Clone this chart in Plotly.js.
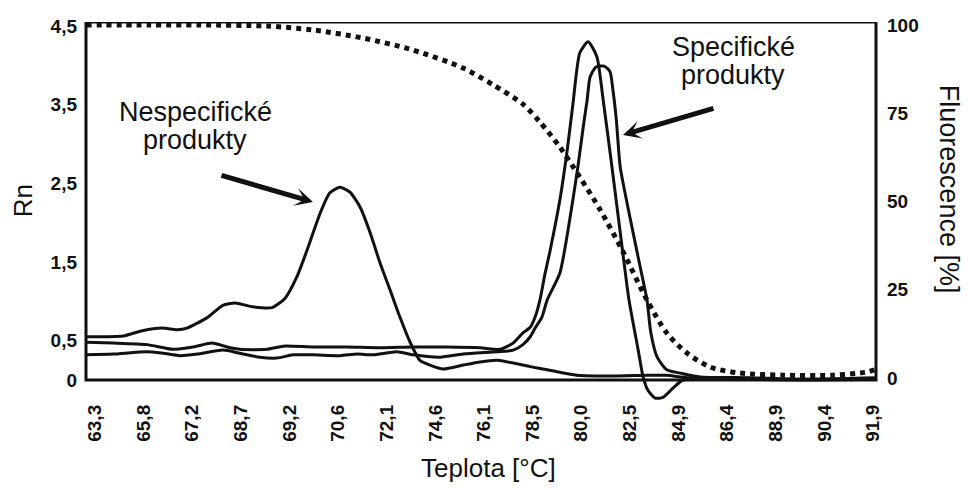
<!DOCTYPE html>
<html>
<head>
<meta charset="utf-8">
<script src="https://cdn.plot.ly/plotly-3.0.1.min.js"></script>
<style>
  html, body { margin: 0; padding: 0; background: #fff; }
  #chart { width: 968px; height: 490px; }
</style>
</head>
<body>
<div id="chart"></div>
<script>
// Temperature tick labels (evenly spaced along the axis)
const tempLabels = ['63,3', '65,8', '67,2', '68,7', '69,2', '70,6', '72,1', '74,6', '76,1',
                    '78,5', '80,0', '82,5', '84,9', '86,4', '88,9', '90,4', '91,9'];
const tempPos = tempLabels.map((_, i) => i);

// Rn axis ticks
const rnTickVals = [0, 0.5, 1.5, 2.5, 3.5, 4.5];
const rnTickText = ['0', '0,5', '1,5', '2,5', '3,5', '4,5'];

// Fluorescence axis ticks
const fluorTickVals = [0, 25, 50, 75, 100];

// Melt curve with non-specific products (peak near 70,6)
const nonspecX  = [-0.18, 0.58, 0.93, 1.38, 1.69, 1.89, 2.30, 2.63, 2.88, 3.25, 3.64, 3.91, 4.15, 4.36,
                   4.63, 4.83, 5.04, 5.24, 5.45, 5.66, 5.86, 6.07, 6.27, 6.48, 6.68, 6.89, 7.16, 7.57,
                   7.92, 8.27, 8.95, 9.30, 9.91, 10.65, 11.35, 11.76, 12.17, 13.26, 14.50, 16.06];
const nonspecRn = [0.55, 0.56, 0.62, 0.66, 0.64, 0.66, 0.79, 0.95, 0.98, 0.93, 0.92, 1.04, 1.31, 1.65,
                   2.12, 2.38, 2.45, 2.39, 2.20, 1.87, 1.49, 1.14, 0.80, 0.48, 0.25, 0.19, 0.14, 0.19,
                   0.23, 0.25, 0.17, 0.13, 0.06, 0.05, 0.06, 0.06, 0.03, 0.01, 0.01, 0.01];

// Specific product, first replicate (taller peak)
const specAX  = [-0.18, 0.37, 1.07, 1.60, 2.02, 2.41, 2.72, 2.98, 3.54, 3.87, 4.48, 5.18, 5.86, 6.54,
                 7.24, 7.92, 8.33, 8.60, 8.80, 8.95, 9.05, 9.15, 9.25, 9.36, 9.56, 9.71, 9.83, 9.97,
                 10.14, 10.32, 10.45, 10.63, 10.82, 10.98, 11.17, 11.27, 11.37, 11.52, 11.68, 11.89,
                 12.09, 12.44, 13.47, 14.50, 16.06];
const specARn = [0.48, 0.47, 0.45, 0.39, 0.42, 0.47, 0.42, 0.39, 0.39, 0.43, 0.42, 0.42, 0.41, 0.42,
                 0.42, 0.41, 0.39, 0.47, 0.60, 0.67, 0.80, 1.02, 1.34, 1.65, 2.29, 2.92, 3.52, 4.16,
                 4.30, 4.11, 3.56, 2.71, 1.78, 1.02, 0.38, 0.04, -0.13, -0.23, -0.22, -0.10,
                 0.00, 0.01, 0.01, 0.00, 0.01];

// Specific product, second replicate
const specBX  = [-0.18, 0.37, 1.07, 1.40, 1.75, 2.10, 2.63, 2.98, 3.39, 3.74, 4.07, 4.48, 5.04, 5.39,
                 5.72, 6.21, 6.54, 7.10, 7.57, 8.27, 8.60, 8.80, 8.95, 9.05, 9.19, 9.30, 9.56, 9.77,
                 9.93, 10.04, 10.12, 10.18, 10.30, 10.47, 10.59, 10.65, 10.72, 10.80, 11.00, 11.21,
                 11.35, 11.43, 11.56, 11.76, 12.09, 12.44, 13.47, 14.50, 16.06];
const specBRn = [0.32, 0.33, 0.36, 0.34, 0.31, 0.33, 0.38, 0.34, 0.29, 0.28, 0.32, 0.32, 0.31, 0.33,
                 0.32, 0.36, 0.32, 0.29, 0.33, 0.36, 0.38, 0.45, 0.55, 0.66, 0.80, 1.02, 1.36, 2.07,
                 2.71, 3.22, 3.56, 3.85, 3.98, 3.99, 3.92, 3.69, 3.31, 2.71, 2.07, 1.44,
                 1.02, 0.60, 0.29, 0.13, 0.08, 0.04, 0.03, 0.01, 0.03];

// Raw fluorescence during the melt (right axis, %)
const fluorX   = [-0.18, 1.13, 2.16, 3.54, 4.48, 5.51, 6.54, 7.57, 8.19, 8.80, 9.15, 9.56, 9.97,
                  10.39, 10.86, 11.35, 11.76, 12.17, 12.65, 13.26, 14.15, 15.18, 15.88, 16.06];
const fluorPct = [100, 100, 100, 99.7, 98.6, 96.3, 92.9, 87.8, 83.0, 77.6, 72.5, 65.4, 56.9,
                  47.6, 35.7, 22.1, 12.7, 7.1, 3.1, 1.4, 0.8, 0.8, 1.7, 2.5];

const ink = '#111';
const family = '"Liberation Sans", Arial, Helvetica, sans-serif';

const curve = (x, y) => ({
  x, y, type: 'scatter', mode: 'lines', yaxis: 'y',
  line: { color: ink, width: 3, shape: 'spline', smoothing: 0.6 },
  hoverinfo: 'skip'
});

const traces = [
  curve(nonspecX, nonspecRn),
  curve(specAX, specARn),
  curve(specBX, specBRn),
  {
    x: fluorX, y: fluorPct, type: 'scatter', mode: 'lines', yaxis: 'y2',
    line: { color: ink, width: 5, dash: 'dot', shape: 'spline', smoothing: 0.8 },
    hoverinfo: 'skip'
  }
];

const tickFont = { family, size: 19, color: ink, weight: 700 };

// centred text label in paper coordinates
const label = (text, x, y, size, angle) => ({
  text, xref: 'paper', yref: 'paper', x, y, xanchor: 'center', yanchor: 'middle',
  textangle: angle || 0, showarrow: false, font: { family, size, color: ink }
});

const layout = {
  width: 968, height: 490,
  margin: { l: 86, r: 92, t: 22, b: 90, pad: 0 },
  paper_bgcolor: '#fff', plot_bgcolor: '#fff',
  showlegend: false,
  font: { family, color: ink },
  xaxis: {
    range: [-0.185, 16.06],
    tickmode: 'array', tickvals: tempPos, ticktext: tempLabels,
    tickangle: -90, tickfont: { family, size: 19, color: ink, weight: 700 },
    showgrid: false, zeroline: false, showline: false, ticks: '',
    fixedrange: true, automargin: false
  },
  yaxis: {
    range: [-0.254, 4.551],
    tickmode: 'array', tickvals: rnTickVals, ticktext: rnTickText,
    tickfont: tickFont, ticklabelstandoff: 8,
    showgrid: false, zeroline: false, showline: false, ticks: '',
    fixedrange: true, automargin: false
  },
  yaxis2: {
    overlaying: 'y', side: 'right',
    range: [-6.23, 100.85],
    tickmode: 'array', tickvals: fluorTickVals,
    tickfont: tickFont, ticklabelstandoff: 10,
    showgrid: false, zeroline: false, showline: false, ticks: '',
    fixedrange: true, automargin: false
  },
  shapes: [
    // plot frame, its bottom edge sitting on Rn = 0
    { type: 'rect', xref: 'paper', yref: 'y', x0: 0, x1: 1, y0: 0, y1: 4.551,
      line: { color: ink, width: 3 }, fillcolor: 'rgba(0,0,0,0)', layer: 'below' }
  ],
  annotations: [
    label('Rn', -0.0797, 0.526, 26, -90),
    label('Fluorescence [%]', 1.0924, 0.556, 27, 90),
    label('Teplota [°C]', 0.509, -0.180, 26),

    label('Nespecifické', 0.138, 0.762, 27),
    label('produkty', 0.138, 0.688, 27),
    label('Specifické', 0.8196, 0.934, 27),
    label('produkty', 0.8196, 0.860, 27),

    // pointer arrows
    { text: '', xref: 'paper', yref: 'paper', x: 0.2873, y: 0.5238, ax: -93, ay: -27,
      showarrow: true, arrowhead: 3, arrowsize: 0.6, arrowwidth: 5, arrowcolor: ink },
    { text: '', xref: 'paper', yref: 'paper', x: 0.6797, y: 0.7011, ax: 92, ay: -27,
      showarrow: true, arrowhead: 3, arrowsize: 0.6, arrowwidth: 5, arrowcolor: ink }
  ]
};

Plotly.newPlot('chart', traces, layout, { displayModeBar: false, staticPlot: true });
</script>
</body>
</html>
